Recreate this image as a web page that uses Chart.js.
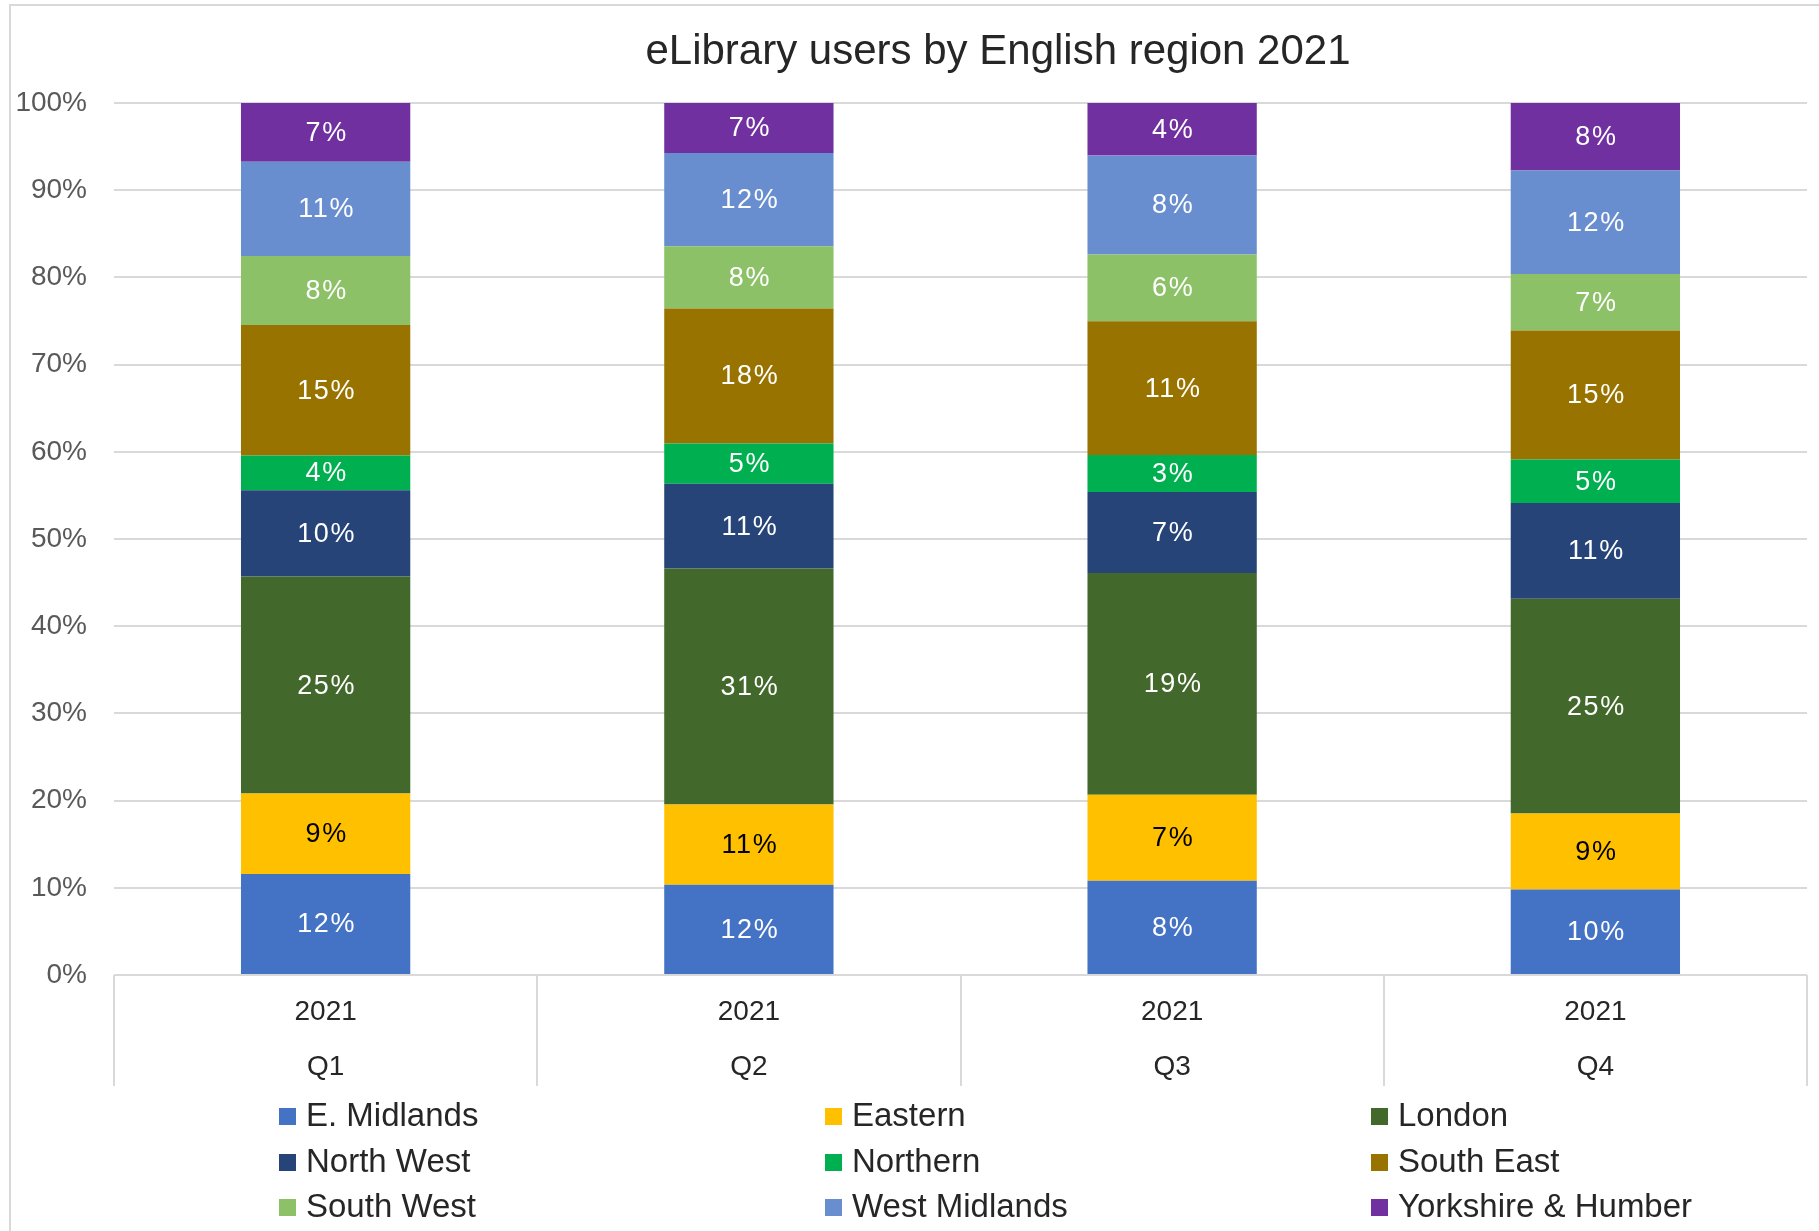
<!DOCTYPE html>
<html>
<head>
<meta charset="utf-8">
<title>eLibrary users by English region 2021</title>
<script src="https://cdn.jsdelivr.net/npm/chart.js@4/dist/chart.umd.min.js"></script>
<style>
    html, body { margin: 0; padding: 0; background: #fff; }
    #wrap { position: relative; width: 1819px; height: 1231px; overflow: hidden; }
    #frame {
        position: absolute; left: 9px; top: 4px; width: 1820px; height: 1240px;
        border-left: 2px solid #d9d9d9; border-top: 2px solid #d9d9d9;
    }
    #chart { position: absolute; left: 0; top: 0; }
</style>
</head>
<body>
<div id="wrap">
    <div id="frame"></div>
    <canvas id="chart" width="1819" height="1231"></canvas>
</div>
<script>
// Categories (two-level axis: year / quarter)
const quarters = [['2021', 'Q1'], ['2021', 'Q2'], ['2021', 'Q3'], ['2021', 'Q4']];

// Values per region (%), as shown on the labels
const eMidlands    = [11.7, 11.9, 7.9, 10.0];
const eastern      = [9.3, 10.6, 7.2, 8.9];
const london       = [25.1, 31.1, 18.6, 25.1];
const northWest    = [10.0, 11.2, 6.8, 11.2];
const northern     = [4.0, 5.3, 3.1, 5.1];
const southEast    = [15.1, 17.8, 11.2, 15.1];
const southWest    = [8.0, 8.2, 5.6, 6.6];
const westMidlands = [10.9, 12.3, 8.3, 12.1];
const yorkshire    = [6.8, 6.6, 4.4, 7.9];

const regionNames = ['E. Midlands', 'Eastern', 'London', 'North West', 'Northern',
    'South East', 'South West', 'West Midlands', 'Yorkshire & Humber'];
const regionValues = [eMidlands, eastern, london, northWest, northern,
    southEast, southWest, westMidlands, yorkshire];
const regionColors = ['#4472C4', '#FFC000', '#43682B', '#264478', '#00B050',
    '#997300', '#8CC168', '#698ED0', '#7030A0'];

// y axis ticks
const yTicks = [0, 10, 20, 30, 40, 50, 60, 70, 80, 90, 100];

const TITLE = 'eLibrary users by English region 2021';
const FONT = "'Liberation Sans', Arial, sans-serif";

// 100% stacked: each bar segment is the share of its quarter total
const quarterTotals = quarters.map((q, i) =>
    regionValues.reduce((sum, arr) => sum + arr[i], 0));

const datasets = regionNames.map((name, d) => ({
    label: name,
    data: regionValues[d].map((v, i) => v / quarterTotals[i] * 100),
    backgroundColor: regionColors[d],
    borderWidth: 0,
    categoryPercentage: 1,
    barPercentage: 0.4
}));

// Title sits a little right of the canvas centre, as in the original
const chartTitle = {
    id: 'chartTitle',
    afterDraw(chart) {
        const ctx = chart.ctx;
        ctx.save();
        ctx.font = '42px ' + FONT;
        ctx.fillStyle = '#262626';
        ctx.textAlign = 'center';
        ctx.textBaseline = 'middle';
        ctx.fillText(TITLE, 998, 52);
        ctx.restore();
    }
};

// Labels in the middle of every segment
const segmentLabels = {
    id: 'segmentLabels',
    afterDatasetsDraw(chart) {
        const ctx = chart.ctx;
        ctx.save();
        ctx.font = '27px ' + FONT;
        ctx.letterSpacing = '1.5px';
        ctx.textAlign = 'center';
        ctx.textBaseline = 'middle';
        chart.data.datasets.forEach((ds, d) => {
            const meta = chart.getDatasetMeta(d);
            ctx.fillStyle = d === 1 ? '#000000' : '#ffffff';
            meta.data.forEach((bar, i) => {
                const text = Math.round(regionValues[d][i]) + '%';
                ctx.fillText(text, bar.x + 1, (bar.y + bar.base) / 2 + 1);
            });
        });
        ctx.restore();
    }
};

// Vertical separators of the category axis
const categoryDividers = {
    id: 'categoryDividers',
    afterDraw(chart) {
        const ctx = chart.ctx;
        const xScale = chart.scales.x;
        const area = chart.chartArea;
        const step = xScale.width / quarters.length;
        ctx.save();
        ctx.strokeStyle = '#d9d9d9';
        ctx.lineWidth = 2;
        for (let i = 0; i <= quarters.length; i++) {
            const x = Math.round(xScale.left + i * step);
            ctx.beginPath();
            ctx.moveTo(x, area.bottom);
            ctx.lineTo(x, area.bottom + xScale.height);
            ctx.stroke();
        }
        ctx.restore();
    }
};

// Legend in a 3 x 3 grid
const gridLegend = {
    id: 'gridLegend',
    afterDraw(chart) {
        const ctx = chart.ctx;
        const colX = [279, 825, 1371];
        const rowY = [1116, 1162, 1207];
        ctx.save();
        ctx.font = '33px ' + FONT;
        ctx.textBaseline = 'middle';
        ctx.textAlign = 'left';
        chart.data.datasets.forEach((ds, d) => {
            const x = colX[d % 3];
            const y = rowY[Math.floor(d / 3)];
            ctx.fillStyle = ds.backgroundColor;
            ctx.fillRect(x, y - 8, 17, 17);
            ctx.fillStyle = '#262626';
            ctx.fillText(ds.label, x + 27, y + 1);
        });
        ctx.restore();
    }
};

new Chart(document.getElementById('chart').getContext('2d'), {
    type: 'bar',
    data: { labels: quarters, datasets: datasets },
    options: {
        responsive: false,
        animation: false,
        layout: { padding: { left: 0, right: 12, top: 103, bottom: 145 } },
        plugins: {
            legend: { display: false },
            tooltip: { enabled: false },
            title: { display: false }
        },
        scales: {
            x: {
                stacked: true,
                grid: { display: false },
                border: { display: false },
                ticks: {
                    color: '#262626',
                    font: { family: FONT, size: 28, lineHeight: 1.96 },
                    padding: 2,
                    maxRotation: 0
                },
                afterFit(scale) { scale.height = 111; }
            },
            y: {
                stacked: true,
                min: 0,
                max: 100,
                afterBuildTicks(scale) { scale.ticks = yTicks.map(v => ({ value: v })); },
                grid: { color: '#d9d9d9', lineWidth: 2, drawTicks: false },
                border: { display: false },
                ticks: {
                    color: '#595959',
                    font: { family: FONT, size: 28 },
                    padding: 27,
                    callback: v => v + '%'
                },
                afterFit(scale) { scale.width = 114; }
            }
        }
    },
    plugins: [segmentLabels, categoryDividers, gridLegend, chartTitle]
});
</script>
</body>
</html>
